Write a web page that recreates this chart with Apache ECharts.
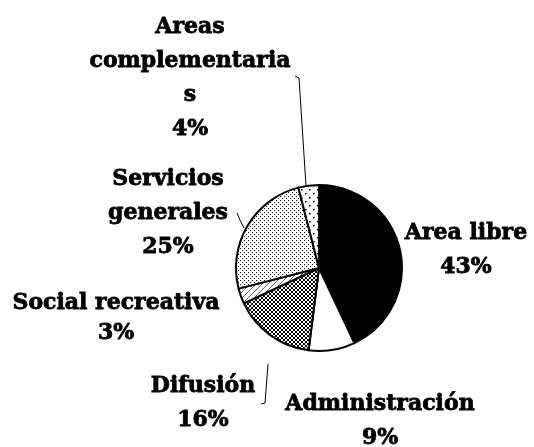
<!DOCTYPE html>
<html>
<head>
<meta charset="utf-8">
<script src="https://cdn.jsdelivr.net/npm/echarts@6/dist/echarts.min.js"></script>
<style>
  html, body { margin: 0; padding: 0; background: #fff; }
  #chart { width: 534px; height: 447px; }
</style>
</head>
<body>
<div id="chart"></div>
<script>
// Distribución de superficies (porcentaje)
const categories = ['Area libre', 'Administración', 'Difusión', 'Social recreativa', 'Servicios generales', 'Areas complementarias'];
const values = [43, 9, 16, 3, 25, 4];

// Line breaks used when printing the names
const wrappedNames = {
  'Servicios generales': 'Servicios\ngenerales',
  'Areas complementarias': 'Areas\ncomplementaria\ns'
};

// Label anchors (centre of each text block) and leader lines, by slice
const labelAnchor = [
  { x: 466, y: 250 },
  { x: 380, y: 421 },
  { x: 203, y: 403 },
  { x: 116, y: 318, lineHeight: 30 },
  { x: 168, y: 213 },
  { x: 190, y: 78 }
];
const leaderLines = {
  2: [[268, 364], [265, 403], [261, 404]],
  4: [[237, 213], [240, 220], [244, 228]],
  5: [[295, 76], [299, 78], [306, 186]]
};

function tile(size, draw) {
  const c = document.createElement('canvas');
  c.width = size; c.height = size;
  const g = c.getContext('2d');
  g.fillStyle = '#fff';
  g.fillRect(0, 0, size, size);
  g.fillStyle = '#000';
  g.strokeStyle = '#000';
  draw(g);
  return { image: c, repeat: 'repeat' };
}

const fills = [
  '#000',
  '#fff',
  // fine cross-hatch
  tile(4, g => {
    [[0,0],[1,1],[2,2],[3,3],[3,0],[2,1],[1,2],[0,3]].forEach(p => g.fillRect(p[0], p[1], 1, 1));
  }),
  // light diagonal hatch
  tile(6, g => {
    g.strokeStyle = '#666';
    g.lineWidth = 1;
    g.beginPath(); g.moveTo(0, 6); g.lineTo(6, 0); g.stroke();
  }),
  // close dots
  tile(4, g => { g.fillRect(0, 0, 1, 1); g.fillRect(2, 2, 1, 1); }),
  // sparse dots
  tile(8, g => { g.fillRect(1, 1, 1.5, 1.5); g.fillRect(5, 5, 1.5, 1.5); })
];

const chart = echarts.init(document.getElementById('chart'), null, { renderer: 'canvas' });

const seriesData = categories.map((name, i) => ({
  name: name,
  value: values[i],
  itemStyle: { color: fills[i] },
  label: labelAnchor[i].lineHeight ? { lineHeight: labelAnchor[i].lineHeight } : {},
  labelLine: { show: !!leaderLines[i] }
}));

chart.setOption({
  animation: false,
  backgroundColor: '#fff',
  series: [{
    type: 'pie',
    center: [319, 268],
    radius: 83,
    startAngle: 90,
    clockwise: true,
    avoidLabelOverlap: false,
    data: seriesData,
    itemStyle: { borderColor: '#000', borderWidth: 2 },
    label: {
      show: true,
      position: 'outside',
      color: '#000',
      fontFamily: 'DejaVu Serif',
      fontWeight: 'bold',
      fontSize: 22,
      lineHeight: 34,
      align: 'center',
      textBorderColor: '#000',
      textBorderWidth: 0.8,
      formatter: p => (wrappedNames[p.name] || p.name) + '\n' + p.value + '%'
    },
    labelLine: {
      show: true,
      lineStyle: { color: '#000', width: 1 }
    },
    labelLayout: params => {
      const a = labelAnchor[params.dataIndex];
      const out = { x: a.x, y: a.y, align: 'center', verticalAlign: 'middle' };
      if (leaderLines[params.dataIndex]) out.labelLinePoints = leaderLines[params.dataIndex];
      return out;
    }
  }]
});
</script>
</body>
</html>
